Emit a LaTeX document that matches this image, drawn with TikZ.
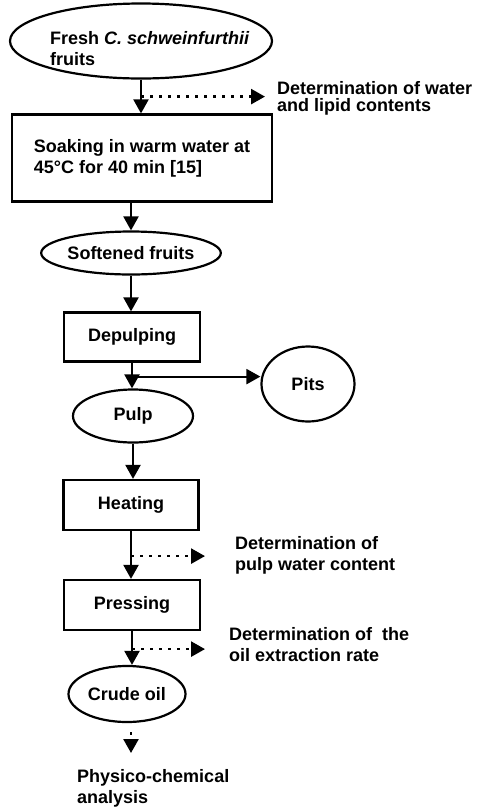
\documentclass[tikz,border=0pt]{standalone}
\usepackage{fontspec}
\setmainfont{Liberation Sans}
\usetikzlibrary{shapes.geometric,arrows.meta}

\newcommand{\flowfont}{\bfseries\fontsize{18}{21}\selectfont}

\tikzset{
  box/.style={draw, rectangle, line width=2.2pt, inner sep=0pt, font=\flowfont},
  oval/.style={draw, ellipse, line width=2.2pt, inner sep=0pt, font=\flowfont},
  note/.style={anchor=north west, inner sep=0pt, align=left, font=\flowfont},
  flow/.style={line width=2.2pt, -{Triangle[length=14pt,width=15pt]}},
  probe/.style={line width=2.6pt, dash pattern=on 2.6pt off 6.4pt, -{Triangle[length=14pt,width=15pt]}},
}

\begin{document}
\begin{tikzpicture}[x=1pt, y=-1pt]
    \useasboundingbox (0,0) rectangle (480,807);

    % --- Process steps ---
    \node[oval, minimum width=262pt, minimum height=75pt] (fresh) at (141,41) {};
    \node[note] (freshtext) at (50,31) {Fresh \textit{C. schweinfurthii}\\fruits};
    \node[box, minimum width=260pt, minimum height=87pt, align=left] (soak) at (142,158) {Soaking in warm water at\\45°C for 40 min [15]};
    \node[oval, minimum width=178pt, minimum height=43pt] (soft) at (131,253) {Softened fruits};
    \node[box, minimum width=136pt, minimum height=49pt] (depulp) at (132,337) {Depulping};
    \node[oval, minimum width=93pt, minimum height=75pt] (pits) at (308,384) {Pits};
    \node[oval, minimum width=120pt, minimum height=53pt] (pulp) at (133,416) {Pulp};
    \node[box, minimum width=135pt, minimum height=50pt] (heat) at (131,505) {Heating};
    \node[box, minimum width=136pt, minimum height=50pt] (press) at (132,605) {Pressing};
    \node[oval, minimum width=117pt, minimum height=56pt] (crude) at (127,694) {Crude oil};

    % --- Measurements ---
    \node[note] (water) at (277,81) {Determination of water\\[-4pt]and lipid contents};
    \node[note] (pulpwater) at (235,536) {Determination of\\pulp water content};
    \node[note] (oilrate) at (229,627) {Determination of\ \ the\\oil extraction rate};
    \node[note] (analysis) at (77,769) {Physico-chemical\\analysis};

    % --- Main flow ---
    \draw[flow] (fresh.south) -- (fresh.south |- soak.north);
    \draw[flow] (soft.north |- soak.south) -- (soft.north);
    \draw[flow] (soft.south) -- (soft.south |- depulp.north);
    \draw[flow] (depulp.south) -- (depulp.south |- pulp.north);
    \coordinate (fork) at ([yshift=-14pt]depulp.south);
    \draw[flow] (fork) -- (fork -| pits.west);
    \draw[flow] (pulp.south) -- (pulp.south |- heat.north);
    \draw[flow] (heat.south) -- (heat.south |- press.north);
    \draw[flow] (press.south) -- (press.south |- crude.north);

    % --- Dotted branches ---
    \coordinate (tap1) at ([yshift=-17pt]fresh.south);
    \draw[probe, shorten >=12pt] (tap1) -- (tap1 -| water.west);
    \coordinate (tap2) at ([yshift=-25pt]heat.south);
    \draw[probe, shorten >=30pt] (tap2) -- (tap2 -| pulpwater.west);
    \coordinate (tap3) at ([yshift=-18pt]press.south);
    \draw[probe, shorten >=24pt] (tap3) -- (tap3 -| oilrate.west);
    \coordinate (tap4) at ([xshift=4pt, yshift=-9pt]crude.south);
    \draw[probe, shorten >=16pt] (tap4) -- (tap4 |- analysis.north);

\end{tikzpicture}
\end{document}
